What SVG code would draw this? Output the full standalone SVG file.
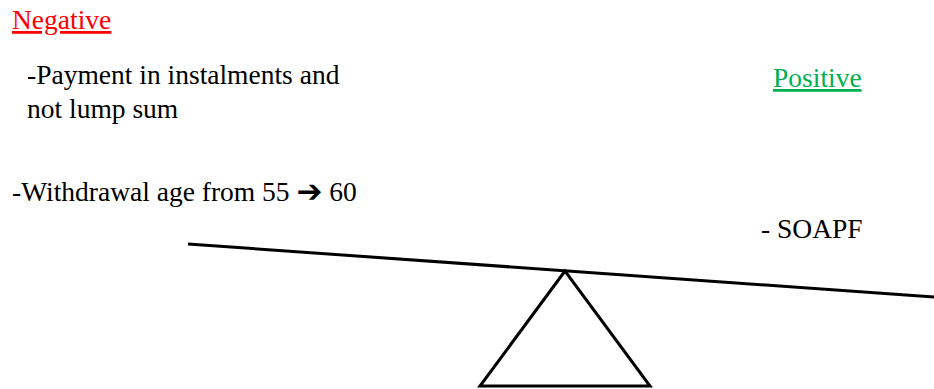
<svg xmlns="http://www.w3.org/2000/svg" width="934" height="389" viewBox="0 0 934 389">
<style>
text{font-family:"Liberation Serif","Times New Roman",serif;font-size:27.5px;fill:#000}
.neg{fill:#FF0000;text-decoration:underline}
.pos{fill:#00B050;text-decoration:underline}
.ln{stroke:#000;stroke-width:3;fill:none}
.arr{font-family:"DejaVu Sans",sans-serif;font-weight:bold;font-size:31px}
</style>
<rect width="934" height="389" fill="#fff"/>
<g id="labels">
<text class="neg" x="12" y="29">Negative</text>
<text x="27" y="84">-Payment in instalments and</text>
<text x="27" y="118">not lump sum</text>
<text x="12" y="201">-Withdrawal age from 55 <tspan class="arr" dy="1">➔</tspan><tspan dy="-1"> 60</tspan></text>
<text class="pos" x="773" y="87">Positive</text>
<text x="761" y="238">- SOAPF</text>
</g>
<g id="seesaw">
<line class="ln" x1="188" y1="244" x2="934" y2="297"/>
<polygon class="ln" points="565,271 480,386 650,386" stroke-linejoin="miter"/>
</g>
</svg>
